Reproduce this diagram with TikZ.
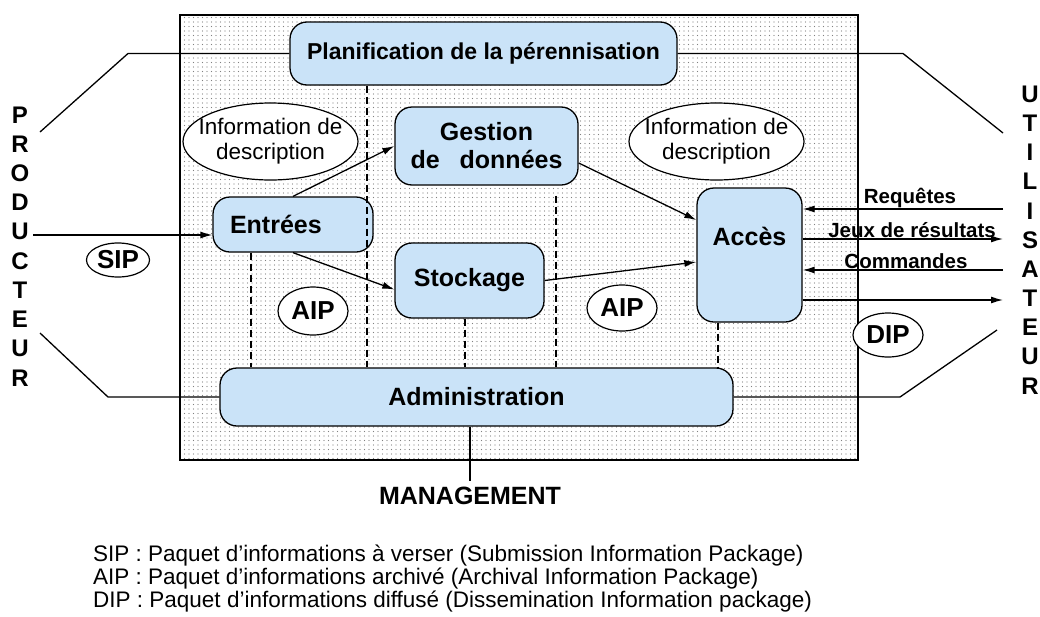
\documentclass[tikz,border=0pt]{standalone}
\usepackage{fontspec}
\setmainfont{Liberation Sans}
\usepackage{xcolor}
\usetikzlibrary{positioning,calc,shapes.geometric,arrows.meta,patterns.meta}

\definecolor{boxblue}{RGB}{202,227,248}

\begin{document}
\begin{tikzpicture}[
	x=1pt, y=-1pt,
	box/.style={                % blocs fonctionnels (bleu clair)
		draw, line width=1.3pt,
		fill=boxblue,
		rounded corners=17pt,
		inner sep=0pt,
		font=\fontsize{25}{28}\selectfont\bfseries,
		align=center
	},
	info/.style={               % ellipses blanches
		ellipse, draw, line width=1.2pt,
		fill=white,
		inner xsep=-12pt, inner ysep=0pt,
		minimum width=175pt, minimum height=77pt,
		font=\fontsize{22.5}{25}\selectfont,
		align=center
	},
	pack/.style={               % paquets SIP / AIP / DIP
		ellipse, draw, line width=1.2pt,
		fill=white, inner sep=1pt,
		font=\fontsize{26}{28}\selectfont\bfseries
	},
	flow/.style={->, >={Latex[length=12pt,width=7pt]}, line width=1.3pt},
	link/.style={line width=1.3pt},
	zone/.style={line width=1.2pt, dash pattern=on 7pt off 4pt},
	actor/.style={inner sep=0pt, font=\fontsize{24}{24}\selectfont\bfseries},
	msg/.style={anchor=south, inner sep=1pt, font=\fontsize{20.5}{22}\selectfont\bfseries},
	legendline/.style={anchor=west, inner sep=0pt, font=\fontsize{22.5}{25}\selectfont}
	]
	\useasboundingbox[fill=white] (0,0) rectangle (1040,616);
	
	% --- Cadre de l'archive (fond pointillé) ---
	\node[draw, line width=1.3pt, minimum width=678pt, minimum height=445pt,
	pattern={Dots[distance=4.5pt, radius=0.7pt]}, pattern color=black!50]
	(archive) at (519,237.5) {};
	
	% --- Blocs ---
	\node[box, minimum width=387pt, minimum height=63pt, font=\fontsize{23}{26}\selectfont\bfseries] (planif) at (483.5,53.5) {Planification de la pérennisation};
	\node[box, minimum width=183pt, minimum height=78pt] (gestion) at (486.5,146) {Gestion\\de\hspace{20pt}données};
	\node[box, minimum width=160pt, minimum height=55pt, text width=126pt, align=left] (entrees) at (293,224.5) {Entrées};
	\node[box, minimum width=149pt, minimum height=75pt] (stockage) at (469.5,280.5) {Stockage};
	\node[box, minimum width=105pt, minimum height=134pt] (acces) at (749.5,255) {Accès\\[10pt]};
	\node[box, minimum width=513pt, minimum height=58pt] (admin) at (476.5,397) {Administration};
	
	% --- Information de description ---
	\node[info] (descG) at (270.5,141.5) {Information de\\description};
	\node[info] (descD) at (716.5,141.5) {Information de\\description};
	
	% --- Paquets ---
	\node[pack, minimum width=63pt, minimum height=34pt] (sip) at (118,260) {SIP};
	\node[pack, minimum width=70pt, minimum height=48pt] (aipG) at (313,311) {AIP};
	\node[pack, minimum width=70pt, minimum height=46pt] (aipD) at (622,308) {AIP};
	\node[pack, minimum width=70pt, minimum height=44pt] (dip) at (888,335) {DIP};
	
	% --- Séparations en tirets ---
	\coordinate (d1) at (251,0);
	\coordinate (d2) at (367,0);
	\coordinate (d3) at (465,0);
	\coordinate (d4) at (556,0);
	\coordinate (d5) at (718,0);
	\draw[zone] (entrees.south -| d1) -- (admin.north -| d1);
	\draw[zone] (planif.south -| d2) -- (admin.north -| d2);
	\draw[zone] (stockage.south -| d3) -- (admin.north -| d3);
	\draw[zone] ($(gestion.south -| d4)+(0,10)$) -- (admin.north -| d4);
	\draw[zone] (acces.south -| d5) -- (admin.north -| d5);
	
	% --- Flux internes ---
	\draw[flow] (entrees.north) -- (gestion.west);
	\draw[flow] (entrees.south) -- ($(stockage.west)+(0,9)$);
	\draw[flow] ($(gestion.east)+(0,17)$) -- ($(acces.west)+(0,-35)$);
	\draw[flow] (stockage.east) -- ($(acces.west)+(0,7)$);
	
	% --- PRODUCTEUR ---
	\foreach \ch [count=\i] in {P,R,O,D,U,C,T,E,U,R} {
		\node[actor] (prod-\i) at (20,{115+29.2*(\i-1)}) {\ch};
	}
	\coordinate (pHaut) at (40,132);
	\coordinate (pHautK) at (128,53.5);
	\coordinate (pBas) at (40,333);
	\coordinate (pBasK) at (108,397);
	\coordinate (pEntree) at (33,235);
	\draw[link] (planif.west) -- (pHautK) -- (pHaut);
	\draw[link] (admin.west) -- (pBasK) -- (pBas);
	\draw[flow] (pEntree) -- (entrees.west |- pEntree);
	
	% --- UTILISATEUR ---
	\foreach \ch [count=\i] in {U,T,I,L,I,S,A,T,E,U,R} {
		\node[actor] (util-\i) at (1030,{94+29.2*(\i-1)}) {\ch};
	}
	\coordinate (uHaut) at (1003,133);
	\coordinate (uHautK) at (903,53.5);
	\coordinate (uBas) at (997,330);
	\coordinate (uBasK) at (900,397);
	\draw[link] (planif.east) -- (uHautK) -- (uHaut);
	\draw[link] (admin.east) -- (uBasK) -- (uBas);
	
	\coordinate (uReq) at (1003,209);
	\coordinate (uRes) at (1003,239);
	\coordinate (uCmd) at (1003,270);
	\coordinate (uSort) at (1003,300);
	\draw[flow] (uReq) -- (acces.east |- uReq);
	\draw[flow] (acces.east |- uRes) -- (uRes);
	\draw[flow] (uCmd) -- (acces.east |- uCmd);
	\draw[flow] (acces.east |- uSort) -- (uSort);
	\node[msg] (lReq) at (910,209) {Requêtes};
	\node[msg] (lRes) at (912,239) {Jeux de résultats};
	\node[msg] (lCmd) at (906,270) {Commandes};
	
	% --- MANAGEMENT ---
	\coordinate (mgmt) at (470,481);
	\draw[link] (admin.south -| mgmt) -- (mgmt);
	\node[below=6pt of mgmt, inner sep=0pt, font=\fontsize{25}{25}\selectfont\bfseries] (lMgmt) {MANAGEMENT};
	
	% --- Légende ---
	\node[legendline] (legSip) at (93,556) {SIP : Paquet d’informations à verser (Submission Information Package)};
	\node[legendline] (legAip) at (93,579) {AIP : Paquet d’informations archivé (Archival Information Package)};
	\node[legendline] (legDip) at (93,602) {DIP : Paquet d’informations diffusé (Dissemination Information package)};
	
\end{tikzpicture}
\end{document}
